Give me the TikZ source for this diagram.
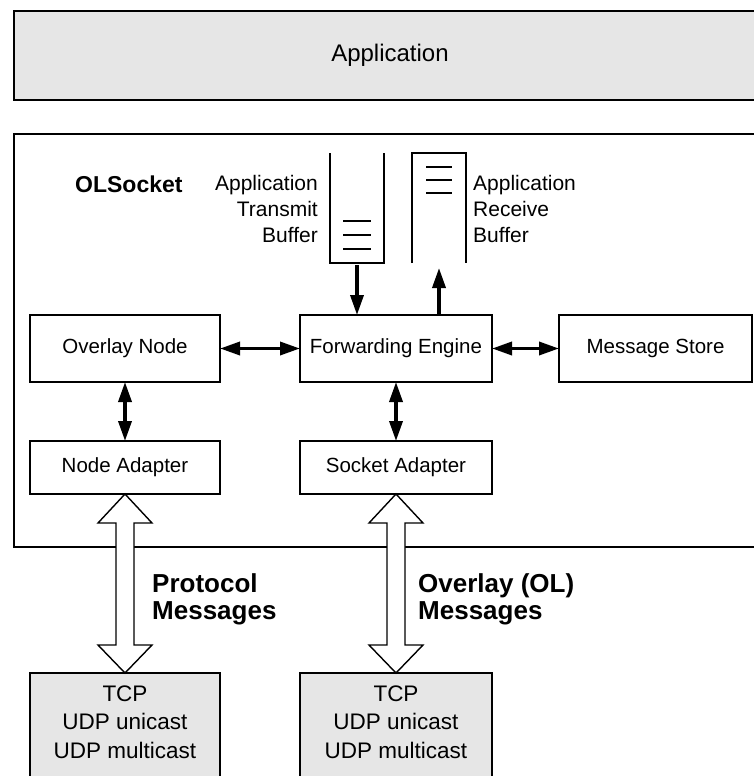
\documentclass[tikz,border=0pt]{standalone}
\usepackage{fontspec}
\setmainfont{Liberation Sans}
\usetikzlibrary{arrows.meta,calc}
\definecolor{boxgray}{RGB}{230,230,230}
\begin{document}
\begin{tikzpicture}[x=1pt,y=-1pt,
  box/.style={draw,line width=1.5pt,rectangle,inner sep=0pt,outer sep=0pt,font=\fontsize{20.5}{24}\selectfont},
  graybox/.style={box,fill=boxgray},
  dbl/.style={line width=3.5pt,{Triangle[length=20pt,width=13pt]}-{Triangle[length=20pt,width=13pt]}},
  sgl/.style={line width=3.5pt,-{Triangle[length=20pt,width=13pt]}},
  hollow/.style={draw,fill=white,line width=1.4pt,line join=miter},
  buf/.style={line width=2pt},
  buflabel/.style={inner sep=0pt,font=\fontsize{21}{26}\selectfont},
  msglabel/.style={anchor=west,align=left,inner sep=0pt,font=\bfseries\fontsize{26}{27}\selectfont},
  stacklabel/.style={align=center,inner sep=0pt,font=\fontsize{22.5}{28.5}\selectfont},
]
\useasboundingbox (0,0) rectangle (754,776);
\clip (0,0) rectangle (754,776);

% Application layer
\node[graybox,minimum width=752pt,minimum height=89pt,font=\fontsize{24}{28}\selectfont] (app) at (390,55.5) {Application};

% OLSocket container
\node[box,fill=white,minimum width=752pt,minimum height=413pt] (ols) at (390,340.5) {};
\node[anchor=base west,inner sep=0pt,font=\bfseries\fontsize{23}{27}\selectfont] (olslabel) at (75,192) {OLSocket};

% Buffers
\node[minimum width=54pt,minimum height=110pt,inner sep=0pt,outer sep=0pt] (tb) at (357,208) {};
\draw[buf] (tb.north west) -- (tb.south west) -- (tb.south east) -- (tb.north east);
\draw[buf] ($(tb.south)+(-14,-42)$) -- ++(28,0);
\draw[buf] ($(tb.south)+(-14,-28)$) -- ++(28,0);
\draw[buf] ($(tb.south)+(-14,-14)$) -- ++(28,0);

\node[minimum width=54pt,minimum height=110pt,inner sep=0pt,outer sep=0pt] (rb) at (439,208) {};
\draw[buf] (rb.south west) -- (rb.north west) -- (rb.north east) -- (rb.south east);
\draw[buf] ($(rb.north)+(-13,14)$) -- ++(26,0);
\draw[buf] ($(rb.north)+(-13,27)$) -- ++(26,0);
\draw[buf] ($(rb.north)+(-13,40)$) -- ++(26,0);

\node[buflabel,anchor=east,align=right] (tblabel) at (318,209) {Application\\Transmit\\Buffer};
\node[buflabel,anchor=west,align=left] (rblabel) at (473,209) {Application\\Receive\\Buffer};

% Components
\node[box,minimum width=190pt,minimum height=67pt] (on) at (125,348.5) {Overlay Node};
\node[box,minimum width=192pt,minimum height=67pt] (fe) at (396,348.5) {Forwarding Engine};
\node[box,minimum width=193pt,minimum height=67pt] (ms) at (655.5,348.5) {Message Store};
\node[box,minimum width=190pt,minimum height=53pt] (na) at (125,467.5) {Node Adapter};
\node[box,minimum width=192pt,minimum height=53pt] (sa) at (396,467.5) {Socket Adapter};

% Transport boxes
\node[graybox,minimum width=190pt,minimum height=127pt] (tcp1) at (125,736.5) {};
\node[graybox,minimum width=192pt,minimum height=127pt] (tcp2) at (396,736.5) {};
\node[stacklabel] (tcp1t) at (125,722) {TCP\\UDP unicast\\UDP multicast};
\node[stacklabel] (tcp2t) at (396,722) {TCP\\UDP unicast\\UDP multicast};

% Arrows
\draw[dbl] (on.east) -- (fe.west);
\draw[dbl] (fe.east) -- (ms.west);
\draw[dbl] (on.south) -- (na.north);
\draw[dbl] (fe.south) -- (sa.north);
\draw[sgl,shorten <=2pt] (tb.south) -- (tb.south |- fe.north);
\draw[sgl,shorten >=5pt] (rb.south |- fe.north) -- (rb.south);

% Hollow block arrows
\draw[hollow] (na.south) -- ($(na.south)+(27,29)$) -- ($(na.south)+(9,29)$)
  -- ($(tcp1.north)+(9,-28)$) -- ($(tcp1.north)+(27,-28)$) -- (tcp1.north)
  -- ($(tcp1.north)+(-27,-28)$) -- ($(tcp1.north)+(-9,-28)$)
  -- ($(na.south)+(-9,29)$) -- ($(na.south)+(-27,29)$) -- cycle;
\draw[hollow] (sa.south) -- ($(sa.south)+(27,29)$) -- ($(sa.south)+(9,29)$)
  -- ($(tcp2.north)+(9,-28)$) -- ($(tcp2.north)+(27,-28)$) -- (tcp2.north)
  -- ($(tcp2.north)+(-27,-28)$) -- ($(tcp2.north)+(-9,-28)$)
  -- ($(sa.south)+(-9,29)$) -- ($(sa.south)+(-27,29)$) -- cycle;

\node[msglabel] (pm) at (152,599.5) {Protocol\\Messages};
\node[msglabel] (om) at (418,599.5) {Overlay (OL)\\Messages};
\end{tikzpicture}
\end{document}
